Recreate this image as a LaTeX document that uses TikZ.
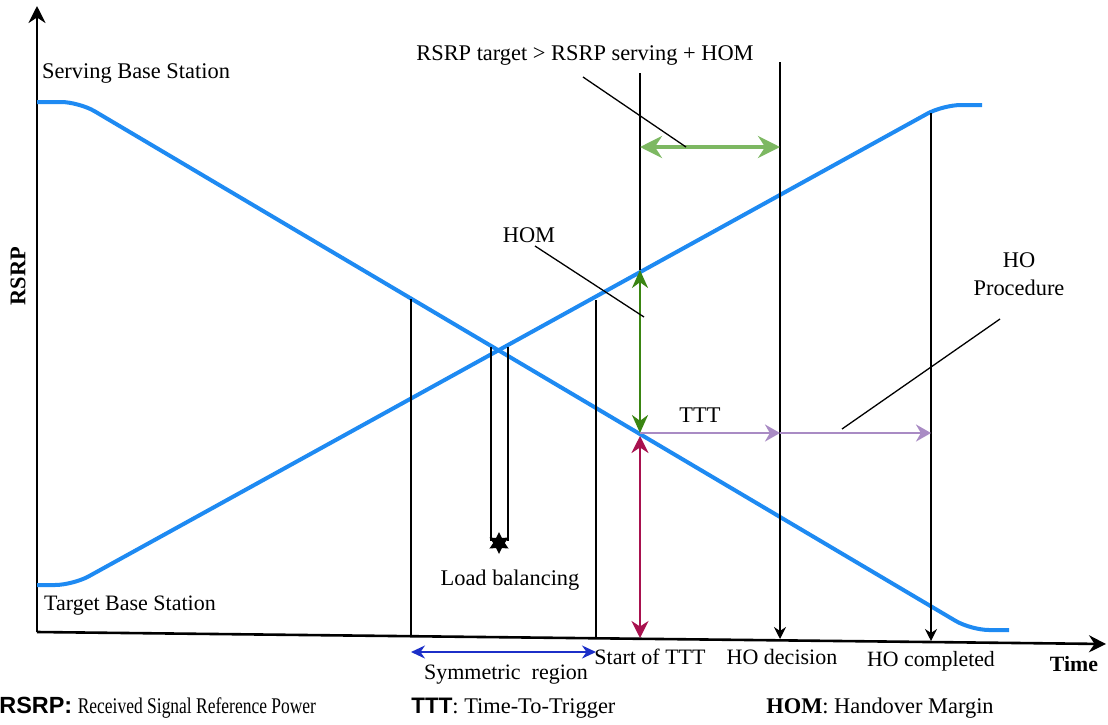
\documentclass[tikz,border=0pt]{standalone}
\usepackage{fontspec}
\setmainfont{Liberation Serif}
\setsansfont{Liberation Sans}
\usepackage{tikz}
\usetikzlibrary{positioning,arrows.meta,shapes.geometric}
\definecolor{rsrpblue}{HTML}{1E8AF2}
\definecolor{homlight}{HTML}{7DB862}
\definecolor{homdark}{HTML}{3A8512}
\definecolor{crimson}{HTML}{A8114E}
\definecolor{tttpurple}{HTML}{A98BC4}
\definecolor{symblue}{HTML}{1C2FC8}

\begin{document}
\begin{tikzpicture}[
    x=0.5pt, y=-0.5pt,
    font=\fontsize{11.2}{14}\selectfont,
    curve/.style={rsrpblue, line width=2pt, rounded corners=9pt},
    axis/.style={-{Stealth[length=8.5pt, width=8.5pt]}, line width=1.3pt},
    mark line/.style={line width=0.65pt},
    mark arrow/.style={mark line, -{Stealth[length=6pt, width=6pt]}},
    pointer/.style={line width=0.65pt},
    lbl/.style={inner sep=1pt}
]
\useasboundingbox (0,0) rectangle (1108,724);

% --- axes ---
\coordinate (origin) at (37,632);
\coordinate (ytip) at (37,6);
\coordinate (xtip) at (1106,644);
\draw[axis] (origin) -- (ytip);
\draw[axis] (origin) -- (xtip);
\node[lbl, rotate=90, font=\fontsize{11.2}{14}\selectfont\bfseries] (ylab) at (18,276) {RSRP};
\node[lbl, font=\fontsize{10.9}{14}\selectfont\bfseries] (xlab) at (1074,664) {Time};

% --- RSRP curves ---
\draw[curve] (37,102) -- (79,102) -- (971,630) -- (1009,630);
\draw[curve] (37,585) -- (73,585) -- (943,105) -- (982,105);
\node[lbl] (serving) at (136,73) {Serving Base Station};
\node[lbl, font=\fontsize{11}{14}\selectfont] (target) at (130,606) {Target Base Station};

% --- time marks ---
\coordinate (symL) at (411,299);
\coordinate (symLb) at (411,636);
\coordinate (symR) at (596,300);
\coordinate (symRb) at (596,638);
\coordinate (tttTop) at (640,73);
\coordinate (homTop) at (640,270);
\coordinate (homBot) at (640,433);
\coordinate (tttBot) at (640,638);
\coordinate (decTop) at (780,62);
\coordinate (decBot) at (780,639);
\coordinate (compTop) at (931,113);
\coordinate (compBot) at (931,641);
\coordinate (decMid) at (780,433);
\coordinate (compMid) at (931,433);

\draw[mark line] (symL) -- (symLb);
\draw[mark line] (symR) -- (symRb);
\draw[mark line] (tttTop) -- (homTop);
\draw[mark arrow] (decTop) -- (decBot);
\draw[mark arrow] (compTop) -- (compBot);

% --- load balancing ---
\node[star, star points=6, star point ratio=1.9, fill=black, inner sep=0pt, minimum size=11pt] (lbstar) at (499,543) {};
\draw[mark line] (491,347) -- (491,541);
\draw[mark line] (508,347) -- (508,541);
\node[lbl] (lb) at (510,580) {Load balancing};

% --- arrows ---
\draw[{Stealth[length=11pt, width=11pt]}-{Stealth[length=11pt, width=11pt]}, homlight, line width=2pt] (640,147) -- (780,147);
\draw[{Stealth[length=9pt, width=8pt]}-{Stealth[length=9pt, width=8pt]}, homdark, line width=1.3pt] (homTop) -- (homBot);
\draw[{Stealth[length=8.5pt, width=8.5pt]}-{Stealth[length=8.5pt, width=8.5pt]}, crimson, line width=1.2pt] (640,436) -- (tttBot);
\draw[-{Stealth[length=7.5pt, width=8.5pt]}, tttpurple, line width=1.3pt] (homBot) -- (decMid);
\draw[-{Stealth[length=7.5pt, width=8.5pt]}, tttpurple, line width=1.3pt] (decMid) -- (compMid);
\draw[{Stealth[length=7pt, width=6.5pt]}-{Stealth[length=7pt, width=6.5pt]}, symblue, line width=1.1pt] (411,652) -- (596,652);

% --- annotations ---
\node[lbl] (cond) at (585,55) {RSRP target > RSRP serving + HOM};
\draw[pointer] (583,77) -- (686,147);
\node[lbl] (hom) at (529,235) {HOM};
\draw[pointer] (535,246) -- (644,317);
\node[lbl] (ttt) at (700,415) {TTT};
\node[lbl, align=center] (hoproc) at (1019,274) {HO\\Procedure};
\draw[pointer] (842,429) -- (1000,319);
\node[lbl, font=\fontsize{11}{14}\selectfont] (sym) at (506,675) {Symmetric\ \ region};
\node[lbl, font=\fontsize{11}{14}\selectfont] (startttt) at (650,657) {Start of TTT};
\node[lbl, font=\fontsize{11}{14}\selectfont] (hodec) at (782,657) {HO decision};
\node[lbl, font=\fontsize{10.9}{14}\selectfont] (hocomp) at (931,661) {HO completed};

% --- legend ---
\node[lbl, anchor=west, inner sep=0pt] (leg1) at (-1,708) {\fontsize{11.7}{14}\selectfont\sffamily\bfseries RSRP:\rmfamily\mdseries\fontsize{11.2}{14}\selectfont\ \scalebox{0.78}[1]{Received Signal Reference Power}};
\node[lbl, anchor=west, inner sep=0pt] (leg2) at (411,708) {\sffamily\bfseries TTT\rmfamily\mdseries: Time-To-Trigger};
\node[lbl, anchor=west, inner sep=0pt] (leg3) at (766,708) {\textbf{HOM}: Handover Margin};

\end{tikzpicture}
\end{document}
